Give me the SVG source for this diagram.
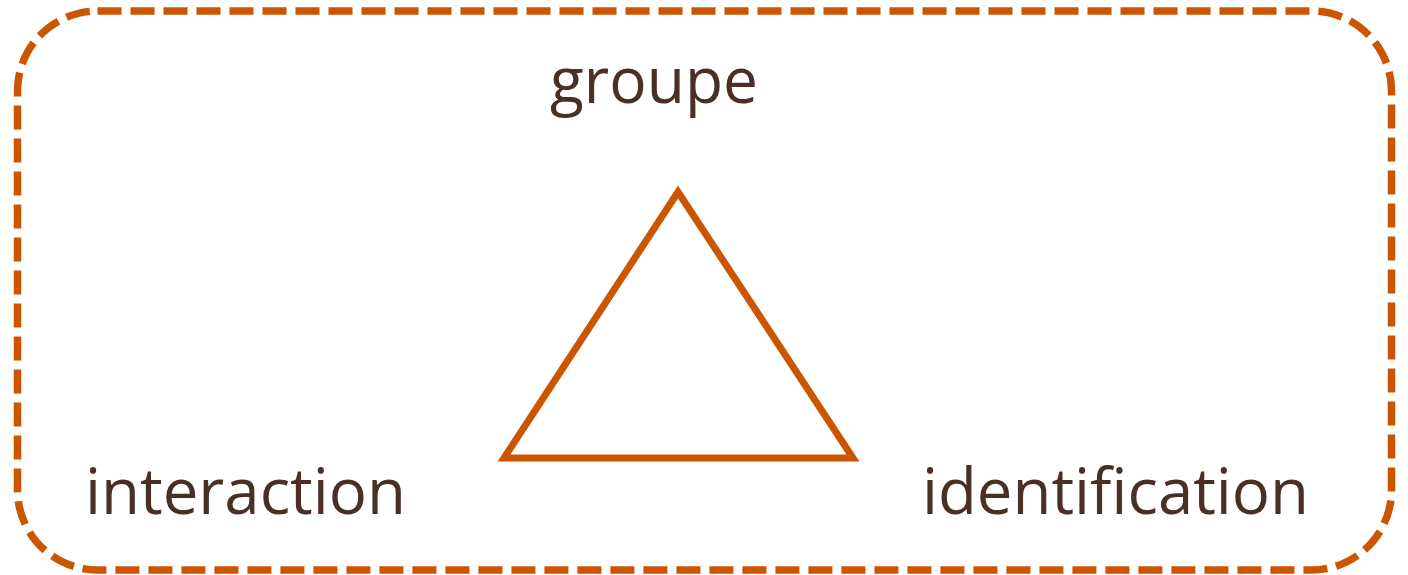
<svg xmlns="http://www.w3.org/2000/svg" width="1408" height="575" viewBox="0 0 1408 575">
<style>
.lbl{font-family:"Open Sans","Noto Sans","Liberation Sans",sans-serif;font-size:64px;fill:#4A2F27}
.frame{fill:none;stroke:#CC5500;stroke-width:7.5;stroke-dasharray:24 9}
.tri{fill:none;stroke:#CC5500;stroke-width:7}
</style>
<rect width="1408" height="575" fill="#FFFFFF"/>
<g id="frame"><rect class="frame" x="17.5" y="11" width="1374" height="559" rx="80" ry="80"/></g>
<g id="connectors"><polygon class="tri" points="678,192 504,458 853,458"/></g>
<g id="groupe"><text class="lbl" x="550" y="103" textLength="208" lengthAdjust="spacingAndGlyphs">groupe</text></g>
<g id="interaction"><text class="lbl" x="85" y="514" textLength="321" lengthAdjust="spacingAndGlyphs">interaction</text></g>
<g id="identification"><text class="lbl" x="922" y="514" textLength="387" lengthAdjust="spacingAndGlyphs">identification</text></g>
</svg>
